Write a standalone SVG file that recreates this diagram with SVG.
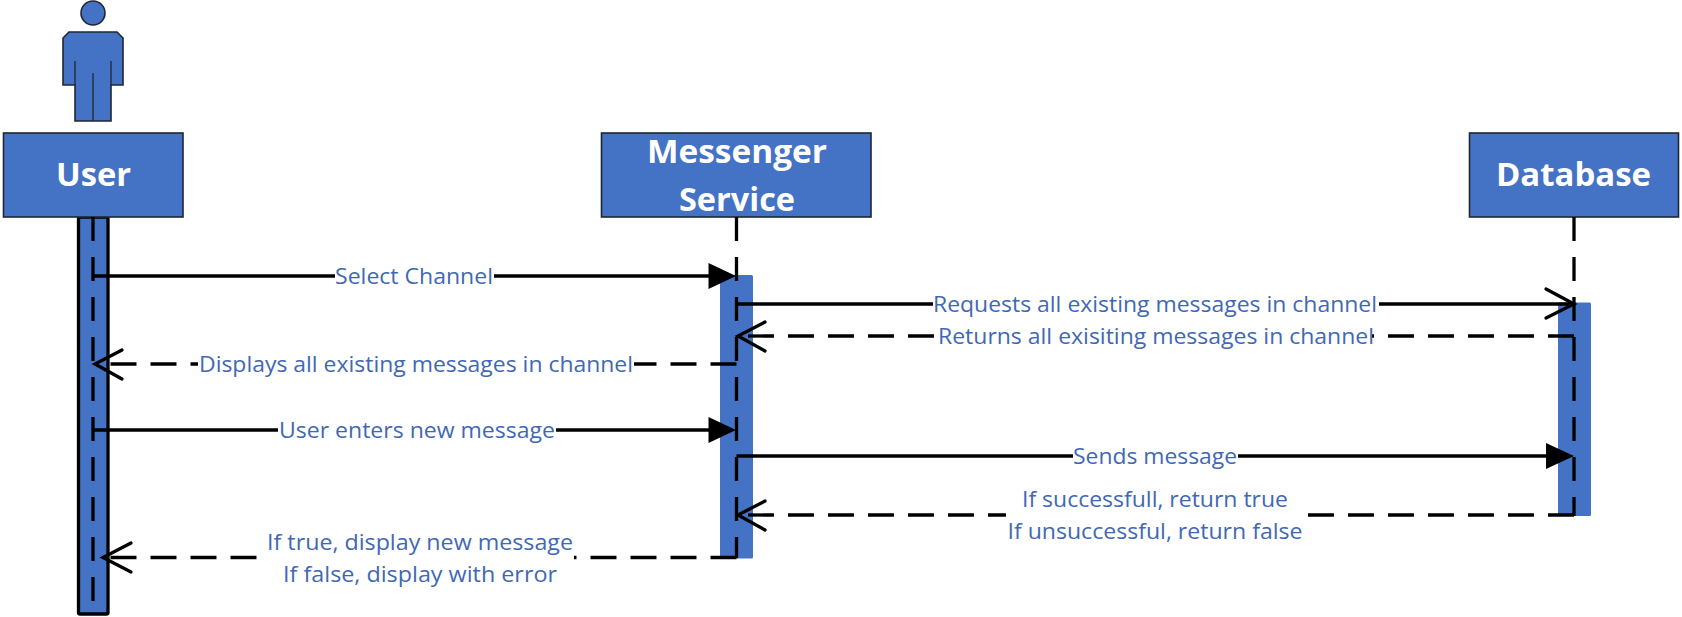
<svg xmlns="http://www.w3.org/2000/svg" width="1682" height="617" viewBox="0 0 1682 617">
<defs>
<style>
.box{fill:#4472c4;stroke:#1f2733;stroke-width:1.6}
.act{fill:#4472c4}
.title{font-family:"Open Sans","Noto Sans",sans-serif;font-weight:700;font-size:33px;fill:#fff;text-anchor:middle}
.lbl{font-family:"Open Sans","Noto Sans",sans-serif;font-size:21px;fill:#3f68b4;text-anchor:middle}
.bg{fill:#fff}
.solid{fill:none;stroke:#000;stroke-width:3.300}
.dash{fill:none;stroke:#000;stroke-width:3.300;stroke-dasharray:26 14}
.life{fill:none;stroke:#000;stroke-width:3.300;stroke-dasharray:24 16}
.open{fill:none;stroke:#000;stroke-width:3.300;stroke-linecap:round;stroke-linejoin:miter}
</style>
</defs>
<g id="actor">
<circle class="box" cx="93" cy="13" r="12"/>
<path class="box" d="M69 32H117L123 38V85H111V121H75V85H63V38Z"/>
<path fill="none" stroke="#1f2733" stroke-width="1.300" d="M75 61V85M111 61V85M93 73V121"/>
</g>
<g id="user">
<rect x="78.500" y="217" width="29.500" height="397" rx="1.500" fill="#4472c4" stroke="#000" stroke-width="3.300"/>
<rect class="box" x="3.500" y="133" width="179.500" height="84"/>
<text class="title" x="93.500" y="186" textLength="75" lengthAdjust="spacingAndGlyphs">User</text>
</g>
<g id="messenger-service">
<rect class="act" x="720" y="275" width="33" height="283.500" rx="1.500"/>
<rect class="box" x="601.500" y="133" width="269.500" height="84"/>
<text class="title" x="737" y="163" textLength="180" lengthAdjust="spacingAndGlyphs">Messenger</text>
<text class="title" x="737" y="211" textLength="116" lengthAdjust="spacingAndGlyphs">Service</text>
</g>
<g id="database">
<rect class="act" x="1558" y="302.500" width="33" height="213.500" rx="1.500"/>
<rect class="box" x="1469.500" y="133" width="209" height="84"/>
<text class="title" x="1573.500" y="186" textLength="155" lengthAdjust="spacingAndGlyphs">Database</text>
</g>
<g id="connectors">
<path class="life" d="M93 217V615"/>
<path class="life" d="M736.500 217V558"/>
<path class="life" d="M1574 217V516"/>

<path class="solid" d="M93 276H710"/>
<path d="M708.500 263L736 276L708.500 289Z"/>
<path class="solid" d="M736.500 304H1572"/>
<path class="open" d="M1546 289L1574 304L1546 318"/>
<path class="dash" d="M1574 336H738"/>
<path class="open" d="M765 322L738 336L765 351"/>
<path class="dash" d="M736.500 364H95"/>
<path class="open" d="M122 350L95 364L122 379"/>
<path class="solid" d="M93 430H710"/>
<path d="M708.500 417L736 430L708.500 443Z"/>
<path class="solid" d="M736.500 456H1548"/>
<path d="M1546 443L1574 456L1546 469Z"/>
<path class="dash" d="M1574 515H738"/>
<path class="open" d="M765 501L738 515L765 530"/>
<path class="dash" d="M736.500 557.500H103"/>
<path class="open" d="M131 543L103 557.500L131 572"/>
</g>
<g id="labels">
<rect class="bg" x="335" y="262" width="159" height="28"/>
<text class="lbl" x="414" y="284" textLength="158" lengthAdjust="spacingAndGlyphs">Select Channel</text>
<rect class="bg" x="933" y="290" width="446" height="28"/>
<text class="lbl" x="1155" y="312" textLength="444" lengthAdjust="spacingAndGlyphs">Requests all existing messages in channel</text>
<rect class="bg" x="937" y="322" width="435" height="28"/>
<text class="lbl" x="1156" y="344" textLength="436" lengthAdjust="spacingAndGlyphs">Returns all exisiting messages in channel</text>
<rect class="bg" x="198" y="350" width="436" height="28"/>
<text class="lbl" x="416" y="371.500" textLength="434" lengthAdjust="spacingAndGlyphs">Displays all existing messages in channel</text>
<rect class="bg" x="278" y="416" width="278" height="28"/>
<text class="lbl" x="417" y="438" textLength="276" lengthAdjust="spacingAndGlyphs">User enters new message</text>
<rect class="bg" x="1073" y="442" width="165" height="28"/>
<text class="lbl" x="1155" y="464" textLength="164" lengthAdjust="spacingAndGlyphs">Sends message</text>
<rect class="bg" x="1006" y="486" width="296" height="58"/>
<text class="lbl" x="1155" y="507" textLength="266" lengthAdjust="spacingAndGlyphs">If successfull, return true</text>
<text class="lbl" x="1155" y="539" textLength="295" lengthAdjust="spacingAndGlyphs">If unsuccessful, return false</text>
<rect class="bg" x="266" y="528" width="308" height="60"/>
<text class="lbl" x="420" y="550" textLength="306" lengthAdjust="spacingAndGlyphs">If true, display new message</text>
<text class="lbl" x="420" y="582" textLength="274" lengthAdjust="spacingAndGlyphs">If false, display with error</text>
</g>
</svg>
